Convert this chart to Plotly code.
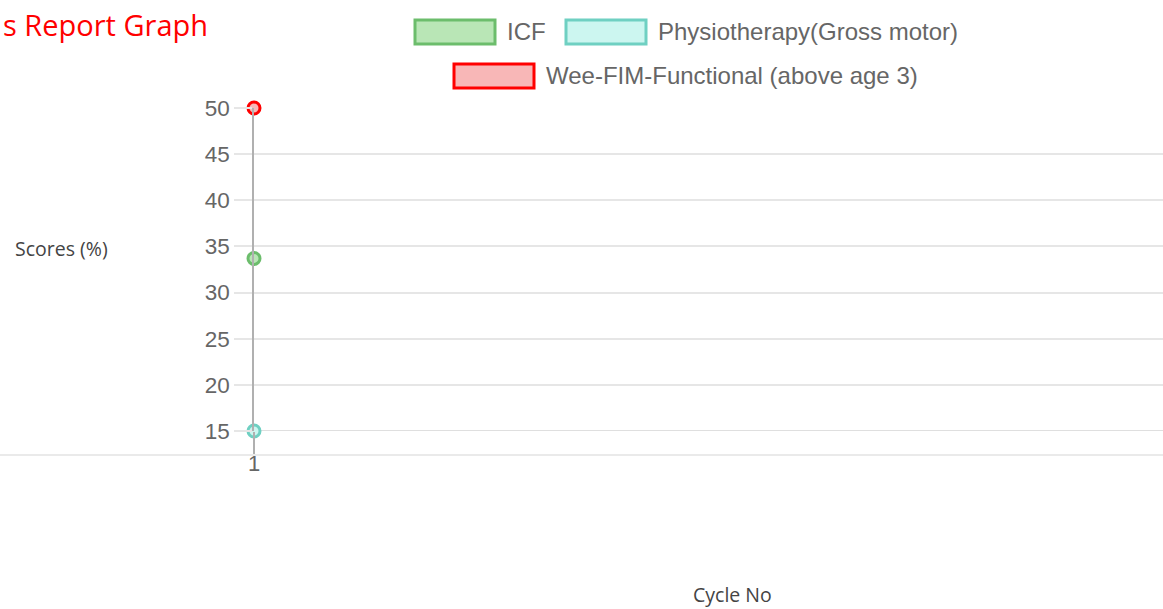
import plotly.graph_objects as go

# ---- data ----
cycles = ["1"]
series_names = ["ICF", "Physiotherapy(Gross motor)", "Wee-FIM-Functional (above age 3)"]
icf_scores = [33.7]
physio_scores = [15]
weefim_scores = [50]
y_ticks = [15, 20, 25, 30, 35, 40, 45, 50]
title_text = "s Report Graph"   # visible part of the (cut-off) title
y_title = "Scores (%)"
x_title = "Cycle No"

border_colors = ["#6cbd6c", "#6fd0c2", "#ff0000"]
fill_colors = ["#b9e6b6", "#ccf6f0", "#f8b7b7"]

W, H = 1163, 609
L, R, T, B = 254, 0, 108, 178
PW, PH = W - L - R, H - T - B


def px(x):
    return (x - L) / PW


def py(y):
    return (H - B - y) / PH


fig = go.Figure()
for name, vals, bc, fc in zip(series_names, [icf_scores, physio_scores, weefim_scores], border_colors, fill_colors):
    fig.add_trace(go.Scatter(
        x=cycles, y=vals, name=name, mode="markers",
        marker=dict(size=12, color=fc, line=dict(color=bc, width=3)),
        showlegend=False, cliponaxis=False,
    ))

shapes = []
annotations = []

# custom chart.js-like legend
legend_items = [
    (415, 20, series_names[0], 0),
    (566, 20, series_names[1], 1),
    (454, 64, series_names[2], 2),
]
for x0, y0, name, i in legend_items:
    shapes.append(dict(type="rect", xref="paper", yref="paper",
                       x0=px(x0), x1=px(x0 + 80), y0=py(y0), y1=py(y0 + 24),
                       fillcolor=fill_colors[i], line=dict(color=border_colors[i], width=3)))
    annotations.append(dict(xref="paper", yref="paper", x=px(x0 + 90), y=py(y0 + 12),
                            text=name, showarrow=False, xanchor="left", yanchor="middle",
                            font=dict(family="Liberation Sans, Arial", size=24, color="#666666")))

# separator line below the axis
shapes.append(dict(type="line", xref="paper", yref="paper",
                   x0=px(0), x1=px(W), y0=py(455), y1=py(455),
                   line=dict(color="#e3e3e3", width=1.5)))

# title
annotations.append(dict(xref="paper", yref="paper", x=px(1), y=py(25),
                        text=title_text, showarrow=False,
                        xanchor="left", yanchor="middle",
                        font=dict(family="Open Sans", size=29, color="#ff0000")))
# axis titles
annotations.append(dict(xref="paper", yref="paper", x=px(61), y=py(248),
                        text=y_title, showarrow=False, xanchor="center", yanchor="middle",
                        font=dict(family="Open Sans", size=19.5, color="#444444")))
annotations.append(dict(xref="paper", yref="paper", x=px(732), y=py(594),
                        text=x_title, showarrow=False, xanchor="center", yanchor="middle",
                        font=dict(family="Open Sans", size=19.5, color="#444444")))

fig.update_layout(
    width=W, height=H,
    margin=dict(l=L, r=R, t=T, b=B, pad=0),
    plot_bgcolor="white", paper_bgcolor="white",
    shapes=shapes, annotations=annotations,
    showlegend=False,
    xaxis=dict(
        type="category", range=[0, 1.5], showgrid=False, zeroline=False,
        showline=False, ticks="outside", ticklen=22, tickcolor="#b0b0b0", tickwidth=1.5,
        tickfont=dict(family="Liberation Sans, Arial", size=22, color="#666666"),
        ticklabelstandoff=-9,
    ),
    yaxis=dict(
        range=[15, 50], tickvals=y_ticks, showgrid=True, gridcolor="#e6e6e6", gridwidth=1.5,
        zeroline=False, showline=True, linecolor="#b0b0b0", linewidth=1.5,
        ticks="outside", ticklen=18, tickcolor="#e6e6e6", tickwidth=1.5,
        tickfont=dict(family="Liberation Sans, Arial", size=22.5, color="#666666"),
    ),
)
# darker bottom gridline at 15
fig.add_shape(type="line", xref="paper", yref="y", x0=0, x1=1, y0=15, y1=15,
              line=dict(color="#d4d4d4", width=1.5), layer="below")

fig.write_html("out.html", config={"displayModeBar": False},
               post_script="document.body.style.margin='0';")
